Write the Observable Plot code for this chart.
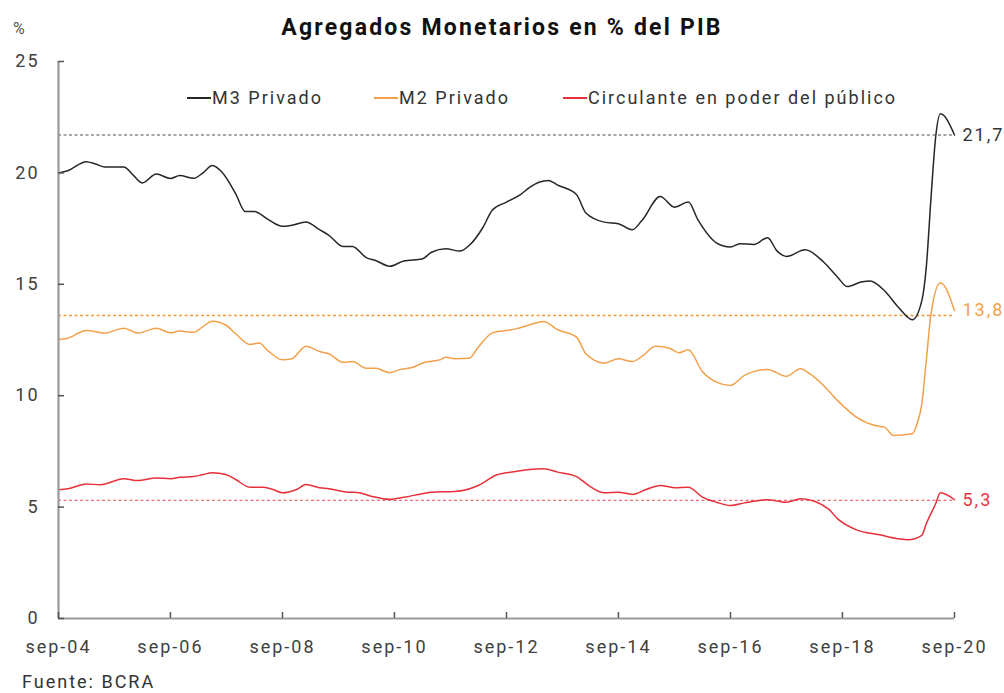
<!DOCTYPE html>
<html><head><meta charset="utf-8">
<script src="https://cdn.jsdelivr.net/npm/d3@7"></script>
<script src="https://cdn.jsdelivr.net/npm/@observablehq/plot@0.6"></script>
<style>
body{margin:0;background:#fff;font-family:Roboto,"Noto Sans",sans-serif;}
#wrap{position:relative;width:1004px;height:693px;overflow:hidden;background:#fff}
#chart{position:absolute;left:0;top:0}
.abs{position:absolute;white-space:nowrap}
#title{left:0;width:1004px;top:16px;text-align:center;font-weight:bold;font-size:23px;line-height:23px;letter-spacing:2.2px;color:#111}
#pct{left:13px;top:19px;font-size:16px;line-height:20px;color:#555}
#caption{left:22px;top:672px;font-size:18px;line-height:19px;letter-spacing:2px;color:#333}
.leg{top:88px;font-size:18px;line-height:20px;letter-spacing:2px;color:#333}
.leg i{display:inline-block;width:24px;height:1.6px;vertical-align:middle;margin-right:1px;position:relative;top:-1px}
</style></head>
<body>
<div id="wrap">
  <div id="chart"></div>
  <div id="title" class="abs"></div>
  <div id="pct" class="abs"></div>
  <div id="legend"></div>
  <div id="caption" class="abs"></div>
</div>
<script>
const titleText = "Agregados Monetarios en % del PIB";
const unitText = "%";
const captionText = "Fuente: BCRA";
const seriesNames = ["M3 Privado", "M2 Privado", "Circulante en poder del público"];
const seriesColors = ["#262626", "#f2a04a", "#e8303a"];
const legendLeft = [187, 374, 563];

const m3Dates = ["2004-09","2004-11","2005-03","2005-05","2005-07","2005-11","2006-01","2006-03","2006-06","2006-09","2006-11","2007-02","2007-04","2007-06","2007-08","2007-11","2008-01","2008-03","2008-06","2008-09","2008-11","2009-02","2009-05","2009-07","2009-10","2009-12","2010-03","2010-05","2010-08","2010-11","2011-03","2011-05","2011-08","2011-11","2012-01","2012-04","2012-06","2012-09","2012-12","2013-02","2013-04","2013-06","2013-08","2013-12","2014-02","2014-06","2014-09","2014-12","2015-02","2015-06","2015-09","2015-12","2016-02","2016-06","2016-09","2016-11","2017-02","2017-05","2017-07","2017-09","2018-01","2018-05","2018-08","2018-10","2019-01","2019-03","2019-06","2019-09","2019-12","2020-02","2020-03","2020-04","2020-05","2020-06","2020-09"];
const m3Values = [20.0,20.1,20.5,20.4,20.26,20.26,19.9,19.55,19.95,19.75,19.88,19.76,20.0,20.33,20.05,19.06,18.27,18.27,17.9,17.6,17.65,17.8,17.45,17.2,16.7,16.7,16.2,16.07,15.81,16.05,16.14,16.44,16.6,16.49,16.74,17.56,18.34,18.69,19.03,19.36,19.58,19.66,19.45,19.03,18.2,17.79,17.72,17.45,17.86,18.94,18.46,18.69,17.9,16.86,16.67,16.82,16.79,17.09,16.5,16.25,16.55,16.0,15.32,14.9,15.1,15.15,14.72,13.97,13.41,14.27,15.77,18.9,21.6,22.65,21.7];

const m2Dates = ["2004-09","2004-11","2005-03","2005-07","2005-11","2006-02","2006-06","2006-09","2006-11","2007-02","2007-04","2007-06","2007-09","2007-11","2008-02","2008-04","2008-06","2008-09","2008-11","2009-02","2009-05","2009-07","2009-10","2009-12","2010-03","2010-05","2010-08","2010-10","2011-01","2011-03","2011-05","2011-07","2011-08","2011-10","2012-01","2012-03","2012-06","2012-09","2012-11","2013-02","2013-05","2013-08","2013-12","2014-02","2014-06","2014-09","2014-12","2015-02","2015-05","2015-08","2015-10","2015-12","2016-03","2016-06","2016-09","2016-12","2017-05","2017-09","2017-12","2018-02","2018-05","2018-08","2018-12","2019-04","2019-06","2019-08","2019-12","2020-01","2020-02","2020-03","2020-04","2020-06","2020-09"];
const m2Values = [12.52,12.58,12.93,12.81,13.03,12.81,13.03,12.82,12.9,12.85,13.1,13.34,13.15,12.78,12.3,12.36,12.0,11.61,11.66,12.22,11.98,11.88,11.5,11.53,11.23,11.23,11.03,11.16,11.28,11.46,11.55,11.62,11.73,11.66,11.68,12.18,12.82,12.93,13.0,13.18,13.33,12.96,12.63,11.88,11.46,11.66,11.53,11.76,12.22,12.13,11.93,12.06,11.09,10.61,10.46,10.91,11.18,10.87,11.21,10.98,10.46,9.78,9.04,8.66,8.59,8.21,8.29,8.74,9.64,11.58,13.68,15.07,13.82];

const circDates = ["2004-09","2004-11","2005-03","2005-06","2005-11","2006-02","2006-06","2006-09","2006-11","2007-02","2007-04","2007-06","2007-09","2007-11","2008-02","2008-05","2008-07","2008-09","2008-12","2009-02","2009-05","2009-07","2009-11","2010-01","2010-04","2010-08","2010-11","2011-03","2011-05","2011-10","2012-03","2012-07","2012-11","2013-02","2013-05","2013-08","2013-12","2014-03","2014-06","2014-09","2014-12","2015-03","2015-06","2015-09","2015-12","2016-03","2016-06","2016-09","2016-12","2017-05","2017-09","2017-12","2018-06","2018-08","2018-12","2019-05","2019-09","2019-11","2020-02","2020-03","2020-05","2020-06","2020-09"];
const circValues = [5.78,5.82,6.04,6.0,6.27,6.19,6.31,6.27,6.34,6.37,6.46,6.54,6.45,6.24,5.89,5.89,5.79,5.64,5.79,6.01,5.87,5.82,5.67,5.66,5.49,5.35,5.44,5.6,5.67,5.7,5.97,6.45,6.6,6.69,6.72,6.57,6.37,5.92,5.64,5.67,5.57,5.79,5.97,5.87,5.89,5.45,5.22,5.07,5.19,5.33,5.22,5.37,4.92,4.47,3.98,3.76,3.58,3.53,3.73,4.25,5.15,5.64,5.33];

const refValues = [21.7, 13.6, 5.3];
const refColors = ["#8a8a8a", "#f39a3a", "#e8707e"];
const endLabels = ["21,7", "13,8", "5,3"];
const endLabelColors = ["#333333", "#f5a24c", "#ee3340"];

const xTicks = ["2004-09","2006-09","2008-09","2010-09","2012-09","2014-09","2016-09","2018-09","2020-09"];
const xTickLabels = ["sep-04","sep-06","sep-08","sep-10","sep-12","sep-14","sep-16","sep-18","sep-20"];
const yTicks = [0, 5, 10, 15, 20, 25];

const parse = d3.utcParse("%Y-%m");
const mk = (dates, values, s) => dates.map((d, i) => ({date: parse(d), value: values[i], series: s}));
const series = [mk(m3Dates, m3Values, 0), mk(m2Dates, m2Values, 1), mk(circDates, circValues, 2)];
const xTickDates = xTicks.map(parse);
const lastPoints = series.map((s, i) => ({date: s[s.length - 1].date, value: s[s.length - 1].value, label: endLabels[i], color: endLabelColors[i]}));

const W = 1004, H = 693, mL = 58, mR = 50, mT = 61, mB = 75;
const innerW = W - mL - mR, innerH = H - mT - mB;

const chart = Plot.plot({
  width: W, height: H,
  marginLeft: mL, marginRight: mR, marginTop: mT, marginBottom: mB,
  style: {fontFamily: "Roboto, 'Noto Sans', sans-serif", fontSize: "18px", letterSpacing: "2px", color: "#404040", background: "#fff"},
  x: {type: "utc", domain: [xTickDates[0], xTickDates[xTickDates.length - 1]]},
  y: {domain: [0, 25]},
  marks: [
    Plot.axisY({ticks: yTicks, tickSize: 0, tickPadding: 19, label: null, tickFormat: d => String(d)}),
    Plot.axisX({ticks: xTickDates, tickSize: 0, tickPadding: 22, label: null, tickFormat: (d, i) => xTickLabels[i]}),
    ...refValues.map((v, i) => Plot.ruleY([v], {stroke: refColors[i], strokeWidth: 1.3, strokeDasharray: "3,2.5"})),
    Plot.line(series[0], {x: "date", y: "value", stroke: seriesColors[0], strokeWidth: 1.5, curve: "monotone-x"}),
    Plot.line(series[1], {x: "date", y: "value", stroke: seriesColors[1], strokeWidth: 1.5, curve: "monotone-x"}),
    Plot.line(series[2], {x: "date", y: "value", stroke: seriesColors[2], strokeWidth: 1.5, curve: "monotone-x"}),
    Plot.ruleY([0], {stroke: "#9a9a9a", strokeWidth: 2.2}),
    Plot.ruleX([xTickDates[0]], {stroke: "#9a9a9a", strokeWidth: 2.2}),
    Plot.tickY(yTicks, {y: d => d, insetRight: innerW - 6, stroke: "#555", strokeWidth: 1.5}),
    Plot.tickX(xTickDates, {x: d => d, insetTop: innerH - 6, stroke: "#555", strokeWidth: 1.5}),
    Plot.text(lastPoints, {x: "date", y: "value", text: "label", fill: "color", dx: 8, textAnchor: "start", fontSize: 18})
  ]
});
document.getElementById("chart").appendChild(chart);
document.getElementById("title").textContent = titleText;
document.getElementById("pct").textContent = unitText;
document.getElementById("caption").textContent = captionText;
const leg = document.getElementById("legend");
seriesNames.forEach((n, i) => {
  const d = document.createElement("div");
  d.className = "abs leg";
  d.style.left = legendLeft[i] + "px";
  const sw = document.createElement("i");
  sw.style.background = seriesColors[i];
  d.appendChild(sw);
  d.appendChild(document.createTextNode(n));
  leg.appendChild(d);
});
</script>
</body></html>
